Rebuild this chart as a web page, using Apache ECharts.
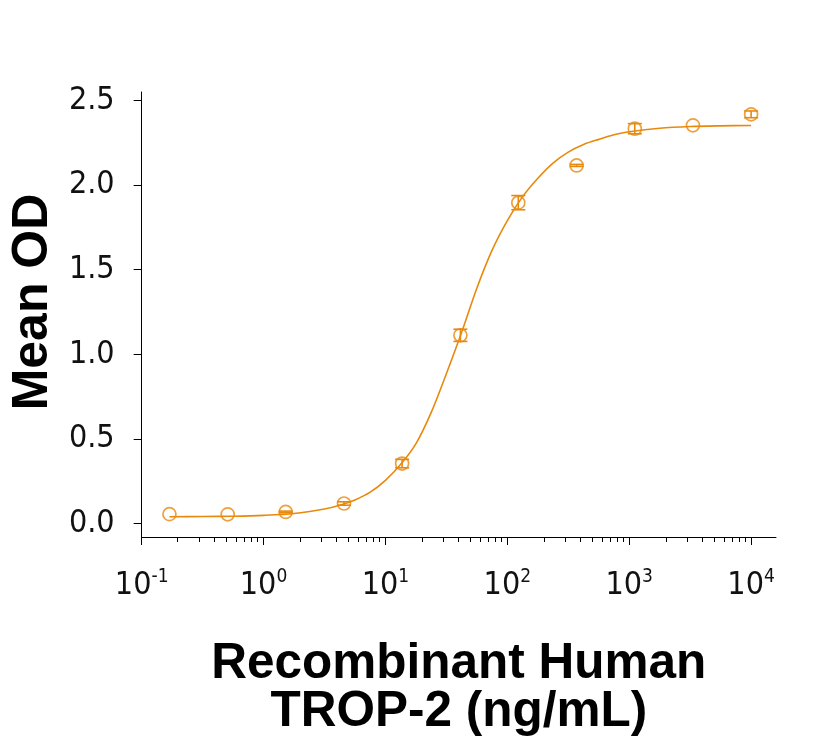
<!DOCTYPE html>
<html><head><meta charset="utf-8">
<script src="https://cdn.jsdelivr.net/npm/echarts@6/dist/echarts.min.js"></script>
<style>html,body{margin:0;padding:0;background:#fff}#c{width:816px;height:743px}</style>
</head><body><div id="c"></div>
<script>
// Measured points (3-fold dilution series)
const concentrations = [0.169, 0.508, 1.52, 4.57, 13.7, 41.2, 123, 370, 1111, 3333, 10000];
const meanOD = [0.055, 0.054, 0.068, 0.118, 0.354, 1.112, 1.896, 2.116, 2.333, 2.353, 2.418];
const errorOD = [0, 0, 0.005, 0.01, 0.025, 0.036, 0.042, 0.006, 0.03, 0, 0.02];
// Fitted curve
const fitX = [0.169, 0.316, 0.562, 1, 1.78, 3.16, 4.22, 5.62, 7.5, 10, 13.3, 17.8, 23.7, 31.6, 42.2, 56.2, 75, 100, 133, 178, 237, 316, 422, 562, 750, 1000, 1778, 3162, 5623, 10000];
const fitY = [0.040, 0.041, 0.043, 0.048, 0.059, 0.086, 0.108, 0.139, 0.185, 0.255, 0.348, 0.472, 0.655, 0.885, 1.13, 1.39, 1.615, 1.79, 1.93, 2.04, 2.13, 2.195, 2.24, 2.27, 2.297, 2.315, 2.336, 2.346, 2.350, 2.352];
// Axis ticks
const yTicks = [0, 0.5, 1.0, 1.5, 2.0, 2.5];
const xMajorTicks = [0.1, 1, 10, 100, 1000, 10000];
const xTickExponents = ['-1', '0', '1', '2', '3', '4'];
const xMinorTicks = [0.2,0.3,0.4,0.5,0.6,0.7,0.8,0.9, 2,3,4,5,6,7,8,9, 20,30,40,50,60,70,80,90, 200,300,400,500,600,700,800,900, 2000,3000,4000,5000,6000,7000,8000,9000];

const ORANGE = '#E8890E';
const TICKFONT = "'Liberation Sans Narrow','DejaVu Sans Condensed','Liberation Sans',sans-serif";
const BOLDFONT = "'Liberation Sans', Arial, sans-serif";

const chart = echarts.init(document.getElementById('c'), null, {renderer: 'canvas'});
const gridPos = {left: 141, right: 40, top: 92, bottom: 206};
const X_MIN = 0.1, X_MAX = 16000, Y_MIN = -0.08, Y_MAX = 2.55;

function expFor(v) {
  for (let i = 0; i < xMajorTicks.length; i++) {
    if (Math.abs(Math.log10(v) - Math.log10(xMajorTicks[i])) < 1e-6) return xTickExponents[i];
  }
  return null;
}

const option = {
  backgroundColor: '#fff',
  animation: false,
  grid: [Object.assign({}, gridPos), Object.assign({}, gridPos)],
  xAxis: [{
    type: 'log', logBase: 10, min: X_MIN, max: X_MAX, gridIndex: 0,
    axisLine: {show: true, onZero: false, lineStyle: {color: '#000', width: 1}},
    axisTick: {show: true, length: 8, customValues: xMajorTicks, lineStyle: {color: '#000', width: 1}},
    splitLine: {show: false}, minorTick: {show: false},
    axisLabel: {
      show: true, margin: 31, customValues: xMajorTicks,
      formatter: function (v) { const e = expFor(v); return e === null ? '' : '{b|10}{s|' + e + '}'; },
      rich: {
        b: {fontFamily: TICKFONT, fontSize: 32, color: '#111', lineHeight: 36},
        s: {fontFamily: TICKFONT, fontSize: 19, color: '#111', lineHeight: 20, verticalAlign: 'top'}
      }
    },
    name: 'Recombinant Human\nTROP-2 (ng/mL)', nameLocation: 'middle', nameGap: 103,
    nameTextStyle: {fontFamily: BOLDFONT, fontWeight: 'bold', fontSize: 49.5, color: '#000', lineHeight: 48, verticalAlign: 'top'}
  }, {
    type: 'log', logBase: 10, min: X_MIN, max: X_MAX, gridIndex: 1,
    axisLine: {show: false, onZero: false},
    axisTick: {show: true, length: 5, customValues: xMinorTicks, lineStyle: {color: '#000', width: 1}},
    axisLabel: {show: false}, splitLine: {show: false}
  }],
  yAxis: [{
    type: 'value', min: Y_MIN, max: Y_MAX, gridIndex: 0,
    axisLine: {show: true, onZero: false, lineStyle: {color: '#000', width: 1}},
    axisTick: {show: true, length: 8, customValues: yTicks, lineStyle: {color: '#000', width: 1}},
    splitLine: {show: false},
    axisLabel: {
      show: true, margin: 27, customValues: yTicks,
      formatter: function (v) { return v.toFixed(1); },
      fontFamily: TICKFONT, fontSize: 32, color: '#111'
    },
    name: 'Mean OD', nameLocation: 'middle', nameGap: 82, nameRotate: 90,
    nameTextStyle: {fontFamily: BOLDFONT, fontWeight: 'bold', fontSize: 50, color: '#000', padding: [0, 0, 0, 25]}
  }, {
    type: 'value', min: Y_MIN, max: Y_MAX, gridIndex: 1, show: false
  }],
  series: [{
    type: 'line', name: 'fit', xAxisIndex: 0, yAxisIndex: 0,
    data: fitX.map((x, i) => [x, fitY[i]]),
    smooth: 0.3, showSymbol: false, symbol: 'none',
    lineStyle: {color: ORANGE, width: 1.6}, z: 2
  }, {
    type: 'custom', name: 'error', xAxisIndex: 0, yAxisIndex: 0,
    data: concentrations.map((x, i) => [x, meanOD[i], errorOD[i]]),
    renderItem: function (params, api) {
      const x = api.value(0), y = api.value(1), e = api.value(2);
      if (!e) return {type: 'group', children: []};
      const top = api.coord([x, y + e]);
      const bot = api.coord([x, y - e]);
      const hw = 7;
      const st = {stroke: ORANGE, lineWidth: 1.6};
      return {type: 'group', children: [
        {type: 'line', shape: {x1: top[0], y1: top[1], x2: bot[0], y2: bot[1]}, style: st},
        {type: 'line', shape: {x1: top[0] - hw, y1: top[1], x2: top[0] + hw, y2: top[1]}, style: st},
        {type: 'line', shape: {x1: bot[0] - hw, y1: bot[1], x2: bot[0] + hw, y2: bot[1]}, style: st}
      ]};
    },
    z: 3
  }, {
    type: 'scatter', name: 'points', xAxisIndex: 0, yAxisIndex: 0,
    data: concentrations.map((x, i) => [x, meanOD[i]]),
    symbol: 'circle', symbolSize: 13,
    itemStyle: {color: 'rgba(255,255,255,0)', borderColor: ORANGE, borderWidth: 1.7},
    z: 4
  }]
};
chart.setOption(option);
</script>
</body></html>
